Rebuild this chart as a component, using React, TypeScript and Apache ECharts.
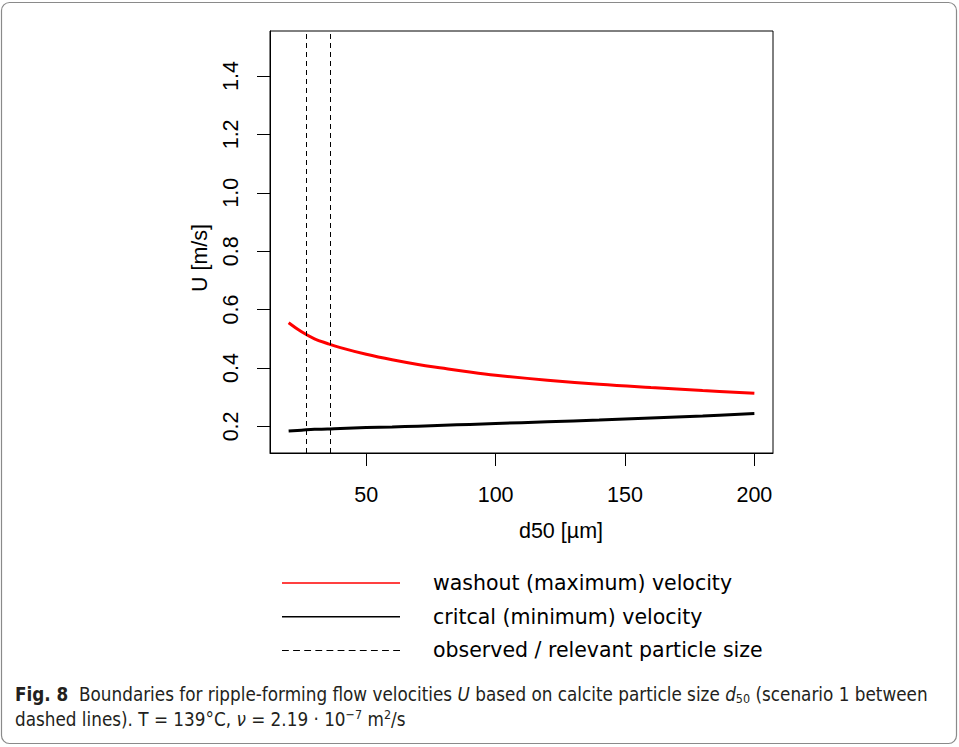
import React, { useEffect, useRef } from 'react';
import * as echarts from 'echarts';

// ---- data ----
const d50 = [20, 25, 30, 35, 40, 50, 60, 70, 80, 90, 100, 120, 140, 160, 180, 200];
const washout = [0.555, 0.524, 0.5, 0.484, 0.47, 0.447, 0.428, 0.412, 0.399, 0.386, 0.375, 0.358, 0.344, 0.333, 0.323, 0.314];
const critical = [0.184, 0.187, 0.19, 0.191, 0.193, 0.196, 0.198, 0.201, 0.204, 0.207, 0.21, 0.216, 0.222, 0.229, 0.236, 0.244];
const observedSizes = [27, 36];
const xTicks = [50, 100, 150, 200];
const yTicks = [0.2, 0.4, 0.6, 0.8, 1.0, 1.2, 1.4];
const seriesNames = [
  'washout (maximum) velocity',
  'critcal (minimum) velocity',
  'observed / relevant particle size',
];
const xTitle = 'd50 [µm]';
const yTitle = 'U [m/s]';
const captionLine1 =
  '{b|Fig. 8}  Boundaries for ripple-forming flow velocities {i|U} based on calcite particle size {i|d}{sub|50} (scenario 1 between';
const captionLine2 = 'dashed lines). T = 139°C, {i|ν} = 2.19 · 10{sup|−7} m{sup|2}/s';

const axisFont = '"Liberation Sans", Arial, Helvetica, sans-serif';
const legendFont = '"DejaVu Sans", sans-serif';
const capFont = '"Liberation Sans Narrow", "DejaVu Sans Condensed", "Roboto Condensed", "Liberation Sans", sans-serif';

function dashIcon(): string {
  let p = 'path://';
  for (let i = 0; i < 11; i++) {
    const x0 = i * 10.6;
    p += `M${x0} 0h6.5v1h-6.5z `;
  }
  return p.trim();
}

export default function App() {
  const ref = useRef<HTMLDivElement>(null);
  useEffect(() => {
    if (!ref.current) return;
    const chart = echarts.init(ref.current, null, { renderer: 'svg' });
    const pairs = (ys: number[]) => d50.map((x, i) => [x, ys[i]]);
    const capBase = { fontFamily: capFont, fontSize: 19.5, lineHeight: 22 };
    const rich = {
      b: { ...capBase, fontWeight: 'bold' },
      i: { ...capBase, fontStyle: 'italic' },
      sub: { fontFamily: capFont, fontSize: 13, lineHeight: 8, verticalAlign: 'bottom' },
      sup: { fontFamily: capFont, fontSize: 13, lineHeight: 8, verticalAlign: 'top' },
    };
    chart.setOption({
      animation: false,
      backgroundColor: '#fff',
      grid: {
        left: 270,
        top: 31,
        width: 503,
        height: 422,
        show: true,
        borderColor: '#000',
        borderWidth: 1,
        backgroundColor: 'transparent',
      },
      xAxis: {
        type: 'value',
        min: 12.8,
        max: 207.2,
        splitLine: { show: false },
        axisLine: { show: true, lineStyle: { color: '#000', width: 1 } },
        axisTick: { show: true, customValues: xTicks, length: 13, lineStyle: { color: '#000', width: 1 } },
        axisLabel: {
          customValues: xTicks,
          fontFamily: axisFont,
          fontSize: 21.5,
          color: '#000',
          margin: 31,
        },
      },
      yAxis: {
        type: 'value',
        min: 0.109,
        max: 1.554,
        splitLine: { show: false },
        axisLine: { show: true, lineStyle: { color: '#000', width: 1 } },
        axisTick: { show: true, customValues: yTicks, length: 13, lineStyle: { color: '#000', width: 1 } },
        axisLabel: {
          customValues: yTicks,
          fontFamily: axisFont,
          fontSize: 21.5,
          color: '#000',
          rotate: 90,
          margin: 28,
          formatter: (v: number) => v.toFixed(1),
        },
      },
      legend: {
        orient: 'vertical',
        left: 282,
        top: 571,
        padding: 0,
        itemWidth: 118,
        itemHeight: 1.5,
        itemGap: 9.7,
        data: [
          { name: seriesNames[0], icon: 'rect' },
          { name: seriesNames[1], icon: 'rect' },
          { name: seriesNames[2], icon: dashIcon() },
        ],
        textStyle: {
          fontFamily: legendFont,
          fontSize: 20.5,
          lineHeight: 24,
          color: '#000',
          padding: [0, 0, 0, 28],
        },
        selectedMode: false,
      },
      series: [
        {
          name: seriesNames[0],
          type: 'line',
          data: pairs(washout),
          smooth: 0.4,
          showSymbol: false,
          symbol: 'none',
          color: '#ff0000',
          lineStyle: { color: '#ff0000', width: 3 },
          silent: true,
        },
        {
          name: seriesNames[1],
          type: 'line',
          data: pairs(critical),
          smooth: 0.4,
          showSymbol: false,
          symbol: 'none',
          color: '#000',
          lineStyle: { color: '#000', width: 3 },
          silent: true,
        },
        {
          name: seriesNames[2],
          type: 'line',
          data: [],
          symbol: 'none',
          color: '#000',
          lineStyle: { color: '#000', width: 1, type: [5, 4] },
          silent: true,
          markLine: {
            silent: true,
            symbol: ['none', 'none'],
            label: { show: false },
            lineStyle: { color: '#000', width: 1, type: [5, 4] },
            emphasis: { disabled: true },
            data: observedSizes.map((v) => ({ xAxis: v })),
          },
        },
      ],
      graphic: [
        {
          type: 'rect',
          silent: true,
          shape: { x: 1.5, y: 2.5, width: 955, height: 741, r: 8 },
          style: { fill: 'none', stroke: '#8a8a8a', lineWidth: 1.2 },
        },
        {
          type: 'text',
          x: 200,
          y: 258,
          rotation: Math.PI / 2,
          style: {
            text: yTitle,
            fontFamily: axisFont,
            fontSize: 21.5,
            fill: '#000',
            align: 'center',
            verticalAlign: 'middle',
          },
        },
        {
          type: 'text',
          x: 561,
          y: 531,
          style: {
            text: xTitle,
            fontFamily: axisFont,
            fontSize: 21.5,
            fill: '#000',
            align: 'center',
            verticalAlign: 'middle',
          },
        },
        {
          type: 'text',
          x: 15,
          y: 694,
          scaleX: 0.96,
          style: {
            text: captionLine1,
            ...capBase,
            fill: '#231f20',
            align: 'left',
            verticalAlign: 'middle',
            rich,
          },
        },
        {
          type: 'text',
          x: 15,
          y: 719,
          scaleX: 0.96,
          style: {
            text: captionLine2,
            ...capBase,
            fill: '#231f20',
            align: 'left',
            verticalAlign: 'middle',
            rich,
          },
        },
      ],
    });
    return () => chart.dispose();
  }, []);
  return (
    <div
      ref={ref}
      style={{ position: 'absolute', left: 0, top: 0, width: 959, height: 747, background: '#fff' }}
    />
  );
}
